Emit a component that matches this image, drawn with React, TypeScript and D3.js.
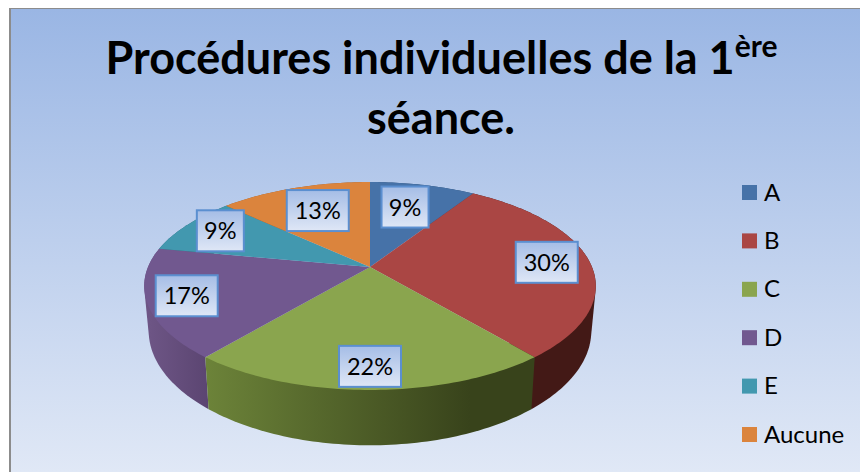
import React from "react";
import * as d3 from "d3";

const categories = ["A", "B", "C", "D", "E", "Aucune"];
const percents = [9, 30, 22, 17, 9, 13];
const topColors = ["#4672a8", "#aa4644", "#8aa54e", "#71588f", "#4298af", "#db843d"];
// couleurs de la tranche 3D, gauche -> droite
const wallColors: [string, string][] = [
    ["#2f4d72", "#2f4d72"],
    ["#4d1f1c", "#431916"],
    ["#6c8339", "#38431b"],
    ["#6d5585", "#5a4470"],
    ["#2d6778", "#2d6778"],
    ["#96592a", "#96592a"],
];

const width = 860;
const height = 472;
const cx = 370;
const apexY = 267;
const radiusX = 222;
const radiusY = 100.5;
const focal = 5.47;
const rimY = 310;

// petit décalage des étiquettes par rapport au point médian de la tranche
const labelNudge = [[-6, 4], [12, 0], [0, 12], [-19, 2], [-10, -4], [6.5, 5]];

const project = (angle: number, r: number, lower = false): [number, number] => {
    const x = Math.sin(angle) * r;
    const y = -Math.cos(angle) * r;
    const k = focal / (focal - y);
    if (lower) return [cx + radiusX * x * k * 0.98, rimY + radiusY * y * k * 1.1];
    return [cx + radiusX * x * k, apexY + radiusY * y * k];
};

const arcAngles = (a0: number, a1: number) => {
    const n = Math.max(2, Math.ceil((a1 - a0) / 0.02));
    return d3.range(n + 1).map(i => a0 + ((a1 - a0) * i) / n);
};

const line = d3.line<[number, number]>().x(d => d[0]).y(d => d[1]);

const App: React.FC = () => {
    const slices = d3.pie<number>().sort(null).value(d => d)(percents);
    const legendY = d3.scaleLinear().domain([0, categories.length - 1]).range([192.5, 434.5]);
    // les tranches les plus proches sont dessinées en dernier
    const wallOrder = d3.sort(slices, s => -Math.cos((s.startAngle + s.endAngle) / 2));

    return (
        <svg width={width} height={height} style={{position: "fixed", left: 0, top: 0, display: "block"}}>
            <defs>
                <linearGradient id="bg" x1="0" y1="0" x2="0" y2="1">
                    <stop offset="0" stopColor="#9ab6e4"/>
                    <stop offset="1" stopColor="#e0e8f6"/>
                </linearGradient>
                <linearGradient id="box" x1="0" y1="0" x2="0" y2="1">
                    <stop offset="0" stopColor="#a5bde6"/>
                    <stop offset="1" stopColor="#dfe7f6"/>
                </linearGradient>
                {wallColors.map((c, i) => (
                    <linearGradient key={i} id={`wall${i}`} gradientUnits="userSpaceOnUse"
                                    x1={i === 3 ? 150 : 207} y1={0} x2={i === 3 ? 212 : 470} y2={0}>
                        <stop offset="0" stopColor={c[0]}/>
                        <stop offset="1" stopColor={c[1]}/>
                    </linearGradient>
                ))}
            </defs>
            <rect x={0} y={0} width={width} height={height} fill="#ffffff"/>
            <rect x={9} y={8} width={width - 9} height={height - 8} fill="#8c8c8c"/>
            <rect x={11} y={9} width={width - 11} height={height - 9} fill="url(#bg)"/>

            <text x={441.5} y={74} textAnchor="middle" fontFamily="Lato" fontWeight={700} fontSize={45} fill="#000">
                Procédures individuelles de la 1
                <tspan dy={-17} fontSize={30}>ère</tspan>
            </text>
            <text x={441} y={134} textAnchor="middle" fontFamily="Lato" fontWeight={700} fontSize={45} fill="#000">
                séance.
            </text>

            {/* tranche 3D */}
            {wallOrder.map(s => {
                const angles = arcAngles(s.startAngle, s.endAngle);
                const hull = d3.polygonHull([
                    ...angles.map(a => project(a, 1)),
                    ...angles.map(a => project(a, 1, true)),
                ]);
                return <path key={s.index} d={(line(hull || []) || "") + "Z"} fill={`url(#wall${s.index})`}/>;
            })}
            {/* dessus */}
            {slices.map((s, i) => {
                const pts: [number, number][] = [
                    project(0, 0),
                    ...arcAngles(s.startAngle, s.endAngle).map(a => project(a, 1)),
                ];
                return <path key={i} d={(line(pts) || "") + "Z"} fill={topColors[i]}/>;
            })}

            {slices.map((s, i) => {
                const [px, py] = project((s.startAngle + s.endAngle) / 2, 0.75);
                const x = px + labelNudge[i][0];
                const y = py + labelNudge[i][1];
                const w = percents[i] < 10 ? 47 : 62;
                return (
                    <g key={i}>
                        <rect x={x - w / 2} y={y - 20.5} width={w} height={41} fill="url(#box)"
                              stroke="#5b8fd0" strokeWidth={2}/>
                        <text x={x} y={y + 8.5} textAnchor="middle" fontFamily="Lato" fontSize={23.5} fill="#000">
                            {percents[i]}%
                        </text>
                    </g>
                );
            })}

            {categories.map((c, i) => (
                <g key={c}>
                    <rect x={742} y={legendY(i) - 7.5} width={15} height={15} fill={topColors[i]}/>
                    <text x={764} y={legendY(i) + 8} fontFamily="Lato" fontSize={24} fill="#000">{c}</text>
                </g>
            ))}
        </svg>
    );
};

export default App;
